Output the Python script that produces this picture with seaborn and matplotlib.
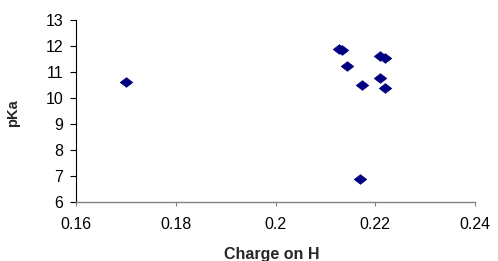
import numpy as np
import pandas as pd
import seaborn as sns
import matplotlib
matplotlib.use("Agg")
import matplotlib.pyplot as plt

# values
charge = [0.1701, 0.2128, 0.2134, 0.2210, 0.2219, 0.2144, 0.2209, 0.2173, 0.2220, 0.2169]
pka = [10.61, 11.87, 11.85, 11.60, 11.52, 11.21, 10.78, 10.50, 10.39, 6.89]

x_ticks = [0.16, 0.18, 0.2, 0.22, 0.24]
x_labels = ["0.16", "0.18", "0.2", "0.22", "0.24"]
y_ticks = [6, 7, 8, 9, 10, 11, 12, 13]

df = pd.DataFrame({"Charge on H": charge, "pKa": pka})

sns.set_style("ticks")
plt.rcParams["font.family"] = ["Liberation Sans", "DejaVu Sans"]

fig = plt.figure(figsize=(4.98, 2.61), dpi=100)
ax = fig.add_axes([76 / 498, 1 - 202 / 261, 399 / 498, (202 - 19.7) / 261])

# flattened diamond like the Excel marker
diamond = [(-1, 0), (0, 0.78), (1, 0), (0, -0.78), (-1, 0)]
sns.scatterplot(data=df, x="Charge on H", y="pKa", ax=ax, marker=diamond,
                s=80, color="#000080", edgecolor="#000080", linewidth=0.5, clip_on=False)

ax.set_xlim(0.16, 0.24)
ax.set_ylim(6, 13)
ax.set_xticks(x_ticks)
ax.set_xticklabels(x_labels)
ax.set_yticks(y_ticks)
ax.tick_params(axis="both", labelsize=11.5, width=0.8, direction="out")
ax.tick_params(axis="x", colors="#808080", labelcolor="black", length=3, pad=8)
ax.tick_params(axis="y", colors="black", length=4.3, pad=5)

ax.spines["top"].set_visible(False)
ax.spines["right"].set_visible(False)
ax.spines["bottom"].set_color("#808080")
ax.spines["left"].set_color("black")
ax.spines["bottom"].set_linewidth(1.0)
ax.spines["left"].set_linewidth(0.8)

ax.set_xlabel("Charge on H", fontsize=11.5, fontweight="bold", va="center")
ax.xaxis.set_label_coords(0.49, -(255 - 202) / 182.3)
ax.set_ylabel("pKa", fontsize=10.5, fontweight="bold", va="center")
ax.yaxis.set_label_coords((13.5 - 76) / 399, (202 - 113) / 182.3)

fig.savefig("out.png", dpi=100)
